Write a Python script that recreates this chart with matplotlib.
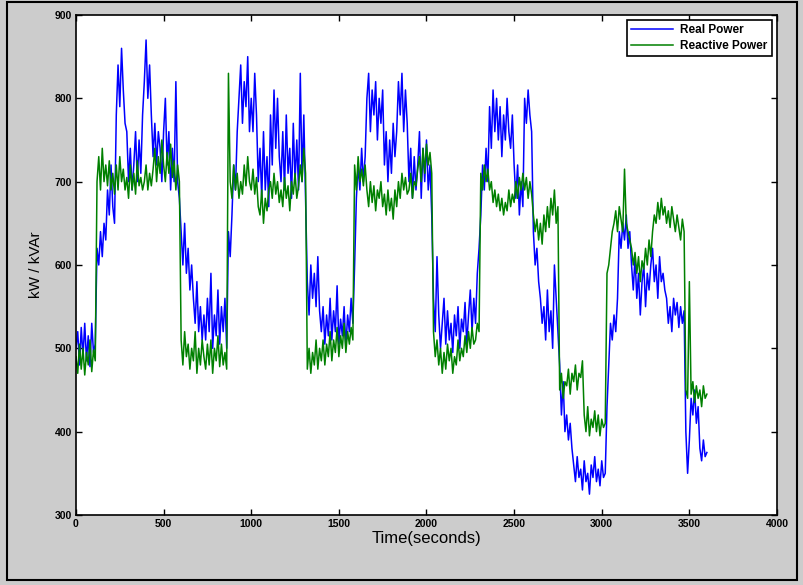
import numpy as np
import matplotlib
matplotlib.use("Agg")
import matplotlib.pyplot as plt
from matplotlib.patches import Rectangle

real_power = [
    500, 520, 480, 525, 490, 530, 485, 515, 478, 530, 495, 505,
    620, 600, 640, 610, 650, 630,
    690, 660, 720, 670, 650,
    780, 840, 790, 860, 810, 770,
    760, 700, 740, 690, 720, 760, 700, 750, 710, 780,
    820, 870, 800, 840, 780,
    730, 770, 720, 760, 740, 700, 760,
    800, 720, 760, 690, 740, 700,
    820, 700, 680,
    640, 600, 650, 590, 620, 570, 600,
    560, 530, 580, 520, 550, 510,
    540, 510, 560, 520, 590, 500, 540, 515, 570, 505, 550, 520, 560, 500,
    640, 610, 660, 720, 690, 760, 800, 840, 770, 820, 790, 850, 760,
    800, 760, 830, 780,
    700, 740, 680, 760, 690, 730, 670,
    780, 720, 810, 740, 800, 730,
    700, 760, 690, 780, 710, 740, 680, 770, 700, 750, 690,
    830, 700, 780, 680,
    580, 540, 600, 560, 590, 550, 610, 545,
    520, 550, 505, 540, 515, 560, 510, 545, 520, 575, 505, 535, 515, 550,
    500, 540, 520, 560, 530,
    600, 680, 720, 690, 740, 700, 730,
    800, 830, 760, 810, 780, 820, 750, 800, 770, 810,
    720, 760, 700, 750, 710, 770, 730, 760,
    820, 780, 830, 760, 810, 770,
    700, 740, 680, 730, 690, 720,
    760, 680, 740, 700, 750, 690, 720, 660,
    560, 520, 610, 540, 500, 530, 560, 505, 545, 510, 530, 495, 540, 515,
    550, 500, 535, 520, 555, 505, 540, 570, 520, 560, 530, 590, 620,
    660, 720, 690, 740, 700,
    790, 740, 810, 760, 800, 750, 790, 730, 780, 750, 800, 760, 740, 780, 720,
    680, 720, 660, 700, 670,
    800, 770, 810, 780, 760,
    640, 600, 620, 580,
    560, 530, 550, 510, 570, 520, 545, 500,
    600, 560, 520,
    480, 420, 460, 400,
    420, 390, 410, 380,
    360, 340, 370, 345, 355, 330, 365, 340, 350, 325, 360, 345, 370, 340,
    355, 335, 365, 345, 350,
    430, 480, 530, 510,
    540, 520, 560, 640, 620, 650,
    630, 660, 620, 640,
    600, 570, 610, 560, 590, 540, 580, 600, 550, 590, 570, 600,
    620, 580, 600, 560, 610, 580, 590, 570,
    560, 530, 550, 520, 560, 540, 555, 525, 550, 530, 545,
    400, 350, 390,
    440, 420, 450, 410, 430,
    380, 365, 390, 370, 375,
]

reactive_power = [
    490, 470, 505, 475, 500, 468, 495, 480, 510, 472, 498, 485,
    700, 730, 690, 740, 700, 720,
    695, 725, 690, 710, 685,
    720, 690, 730, 700, 715, 690,
    705, 680, 720, 690, 710, 685, 725, 695, 705, 690,
    700, 720, 690, 710, 695,
    715, 740, 700, 730, 710, 750, 720,
    700, 735, 710, 745, 705, 725,
    690, 720, 700,
    510, 480, 520, 490, 505, 475, 500,
    485, 520, 470, 500, 480, 510,
    490, 475, 505, 480, 510, 470, 500, 485, 515, 478, 505, 480, 495, 475,
    830, 700, 680, 720, 690, 710, 680, 700, 685, 720, 695, 730, 700,
    690, 715, 685, 705,
    670, 660, 690, 650, 680, 665, 690,
    700, 680, 710, 685, 700, 675,
    690, 670, 705, 680, 695, 665, 700, 685, 710, 680, 695,
    720, 700, 740, 710,
    475, 500, 470, 495, 480, 510, 475, 500,
    485, 510, 480, 505, 490, 520, 485, 510, 495, 525, 490, 515, 500, 530,
    495, 520, 505, 525, 510,
    720, 690, 730, 700, 715, 695, 720,
    690, 670, 700, 675, 695, 665, 690, 680, 700, 670,
    685, 660, 690, 665, 680, 655, 690, 670,
    700, 680, 710, 690, 705, 685,
    690, 710, 680, 700, 695, 715,
    730, 700, 740, 710, 745, 720, 735, 710,
    520, 490, 510, 480, 500, 470, 495, 475, 505, 485, 500, 470, 490, 480,
    510, 485, 500, 490, 515, 495, 520, 500, 525, 505, 510, 530, 520,
    710, 690, 720, 700, 715,
    690, 700, 675, 690, 670, 685, 665, 680, 660, 675, 665, 690, 670, 685, 675,
    700, 680, 705, 690, 710,
    690, 705, 680, 700, 685,
    660, 640, 655, 630,
    650, 625, 660, 640, 670, 645, 680, 660,
    690, 650, 670,
    450, 470, 440, 460,
    455, 475, 445, 470,
    460, 480, 450, 470, 465, 485,
    420, 400, 430, 395, 415, 405, 425, 400, 420, 395, 415, 405, 410,
    590, 600, 620, 640,
    650, 665, 640, 670, 655, 640,
    715, 650, 640, 630,
    620, 600, 615, 590, 610, 580, 605, 595, 620, 600, 630, 610,
    640, 660, 650, 675, 655, 680, 660, 670,
    650, 665, 645, 670, 655, 640, 660, 645, 630, 655, 640,
    450, 440, 580,
    445, 460, 435, 455, 440,
    450, 430, 455, 440, 445,
]

time_s = np.arange(len(real_power)) * 10

x_ticks = np.arange(0, 4001, 500)
y_ticks = np.arange(300, 901, 100)

plt.rcParams['font.family'] = ['Liberation Sans', 'DejaVu Sans']

fig = plt.figure(figsize=(8.04, 5.85), dpi=100, facecolor='#cccccc')
ax = fig.add_axes([0.0945, 0.1197, 0.8719, 0.8547])

ax.plot(time_s, real_power, color='#0000ff', lw=1.1, label='Real Power')
ax.plot(time_s, reactive_power, color='#008000', lw=1.1, label='Reactive Power')

ax.set_xlim(0, 4000)
ax.set_ylim(300, 900)
ax.set_xticks(x_ticks)
ax.set_yticks(y_ticks)
ax.tick_params(direction='in', top=True, right=True, length=4, width=1,
               labelsize=7.5, pad=3)
for lab in ax.get_xticklabels() + ax.get_yticklabels():
    lab.set_fontweight('bold')
for sp in ax.spines.values():
    sp.set_linewidth(1.2)

ax.set_xlabel('Time(seconds)', fontsize=12, labelpad=1)
ax.set_ylabel('kW / kVAr', fontsize=11, labelpad=8)

leg = ax.legend(loc='upper right', fontsize=8.5, fancybox=False, framealpha=1,
                edgecolor='black', borderaxespad=0.45, handlelength=3.6,
                borderpad=0.35, labelspacing=0.3, handletextpad=0.6)
leg.get_frame().set_linewidth(1.2)
for t in leg.get_texts():
    t.set_fontweight('bold')

# black frame round the figure
fig.patches.append(Rectangle((7 / 804, 5 / 585), 790 / 804, 578 / 585,
                             transform=fig.transFigure, fill=False,
                             edgecolor='black', lw=1.5))

fig.savefig('out.png', dpi=100, facecolor=fig.get_facecolor())
